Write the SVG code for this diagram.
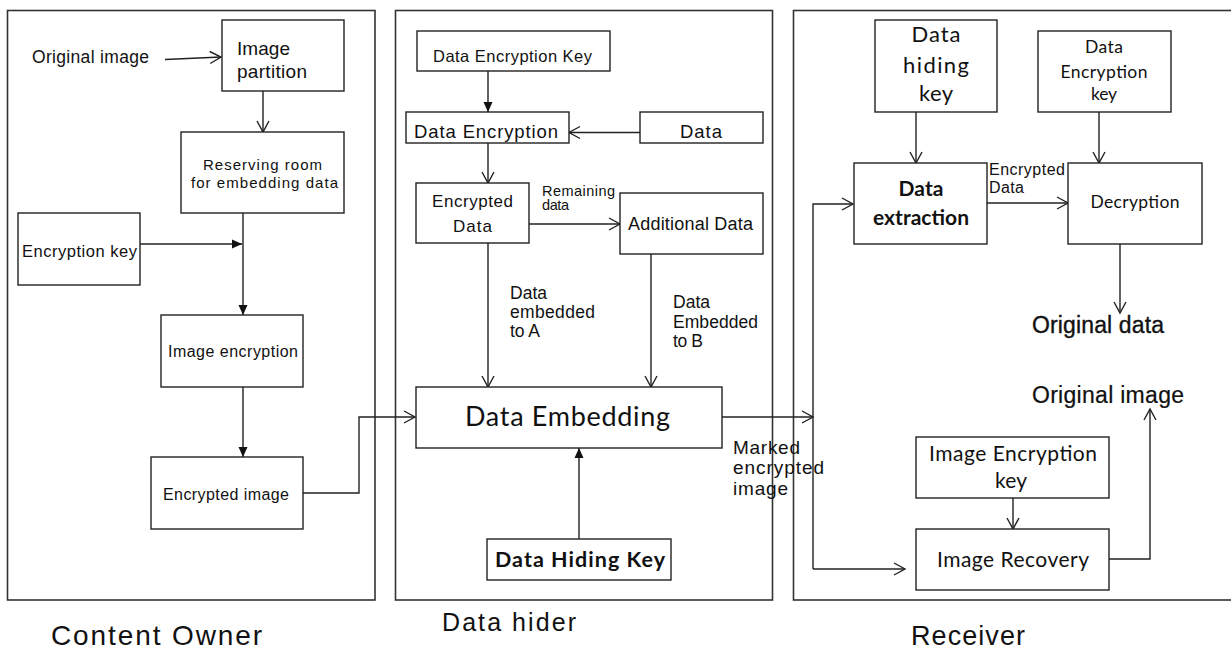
<svg xmlns="http://www.w3.org/2000/svg" width="1231" height="650" viewBox="0 0 1231 650">
<style>
.panel{fill:none;stroke:#333;stroke-width:1.6}
.box{fill:#fff;stroke:#222;stroke-width:1.4}
.ln{fill:none;stroke:#222;stroke-width:1.4}
.a{font-family:"Liberation Sans",Arial,sans-serif;fill:#111}
.c{font-family:Lato,"Liberation Sans",sans-serif;fill:#111}
.m{text-anchor:middle}
.b{font-weight:bold}
</style>
<defs>
<marker id="open" markerUnits="userSpaceOnUse" markerWidth="14" markerHeight="16" refX="12" refY="7" orient="auto">
<path d="M1,1 L12,7 L1,13" fill="none" stroke="#222" stroke-width="1.4"/>
</marker>
<marker id="fill" markerUnits="userSpaceOnUse" markerWidth="12" markerHeight="12" refX="10" refY="5" orient="auto">
<path d="M0,0.5 L10,5 L0,9.5 z" fill="#111"/>
</marker>
</defs>
<rect width="1231" height="650" fill="#fff"/>

<g id="panels">
<rect class="panel" x="7.5" y="10.5" width="367.5" height="589.5"/>
<rect class="panel" x="395.5" y="10.5" width="377" height="589.5"/>
<rect class="panel" x="793.5" y="10.5" width="440" height="589.5"/>
</g>

<g id="connectors">
<path class="ln" d="M165,59.5 L221,57" marker-end="url(#open)"/>
<path class="ln" d="M263,91 L263,132" marker-end="url(#open)"/>
<path class="ln" d="M140,244 L242,244" marker-end="url(#fill)"/>
<path class="ln" d="M243,213 L243,315" marker-end="url(#fill)"/>
<path class="ln" d="M243,387 L243,457" marker-end="url(#fill)"/>
<path class="ln" d="M303,493 L359,493 L359,417 L415,417" marker-end="url(#open)"/>
<path class="ln" d="M488,71 L488,112" marker-end="url(#fill)"/>
<path class="ln" d="M640,132.5 L569,132.5" marker-end="url(#open)"/>
<path class="ln" d="M488,143 L488,183" marker-end="url(#open)"/>
<path class="ln" d="M529,224 L620,224" marker-end="url(#open)"/>
<path class="ln" d="M488,243 L488,387" marker-end="url(#open)"/>
<path class="ln" d="M651,254 L651,387" marker-end="url(#open)"/>
<path class="ln" d="M579,539 L579,448" marker-end="url(#fill)"/>
<path class="ln" d="M722,417 L813,417" marker-end="url(#open)"/>
<path class="ln" d="M813,569 L813,204 L853,204" marker-end="url(#open)"/>
<path class="ln" d="M813,569 L905,569" marker-end="url(#open)"/>
<path class="ln" d="M916,112 L916,163" marker-end="url(#open)"/>
<path class="ln" d="M1099,112 L1099,163" marker-end="url(#open)"/>
<path class="ln" d="M987,203 L1068,203" marker-end="url(#open)"/>
<path class="ln" d="M1120,244 L1120,313" marker-end="url(#open)"/>
<path class="ln" d="M1013,498 L1013,529" marker-end="url(#open)"/>
<path class="ln" d="M1109,559 L1150,559 L1150,409" marker-end="url(#open)"/>
</g>

<!-- Content Owner -->
<g id="original-image-in">
<text class="a" x="32" y="63" font-size="17.5" textLength="117">Original image</text>
</g>
<g id="image-partition">
<rect class="box" x="222" y="20" width="122" height="71"/>
<text class="a" x="237" y="55" font-size="19" textLength="53">Image</text>
<text class="a" x="237" y="78" font-size="19" textLength="70">partition</text>
</g>
<g id="reserving-room">
<rect class="box" x="181" y="132" width="163" height="81"/>
<text class="a" x="203" y="170" font-size="15" textLength="119">Reserving room</text>
<text class="a" x="191" y="188" font-size="15" textLength="147">for embedding data</text>
</g>
<g id="encryption-key">
<rect class="box" x="18" y="213" width="122" height="72"/>
<text class="a" x="22" y="257" font-size="16.5" textLength="115">Encryption key</text>
</g>
<g id="image-encryption">
<rect class="box" x="161" y="315" width="142" height="72"/>
<text class="a" x="168" y="357" font-size="16" textLength="130">Image encryption</text>
</g>
<g id="encrypted-image">
<rect class="box" x="151" y="457" width="152" height="72"/>
<text class="a" x="163" y="500" font-size="16" textLength="126">Encrypted image</text>
</g>
<g id="label-content-owner">
<text class="a" x="51" y="645" font-size="28" textLength="211">Content Owner</text>
</g>

<!-- Data hider -->
<g id="data-encryption-key">
<rect class="box" x="417" y="31" width="193" height="40"/>
<text class="a" x="433" y="62" font-size="16.5" textLength="159">Data Encryption Key</text>
</g>
<g id="data-encryption">
<rect class="box" x="406" y="112" width="163" height="31"/>
<text class="a" x="414" y="138" font-size="18.5" textLength="144">Data Encryption</text>
</g>
<g id="data">
<rect class="box" x="640" y="112" width="123" height="31"/>
<text class="a" x="680" y="138" font-size="18.5" textLength="42">Data</text>
</g>
<g id="encrypted-data">
<rect class="box" x="416" y="183" width="113" height="60"/>
<text class="a" x="432" y="207" font-size="17" textLength="81">Encrypted</text>
<text class="a" x="453" y="232" font-size="17" textLength="39">Data</text>
</g>
<g id="remaining-data-label">
<text class="a" x="542" y="196" font-size="14.5" textLength="73">Remaining</text>
<text class="a" x="542" y="210" font-size="14.5" textLength="27">data</text>
</g>
<g id="additional-data">
<rect class="box" x="620" y="193" width="143" height="61"/>
<text class="a" x="628" y="230" font-size="18" textLength="125">Additional Data</text>
</g>
<g id="embedded-a-label">
<text class="a" x="510" y="299" font-size="17.5" textLength="37">Data</text>
<text class="a" x="510" y="318" font-size="17.5" textLength="85">embedded</text>
<text class="a" x="510" y="337" font-size="17.5" textLength="30">to A</text>
</g>
<g id="embedded-b-label">
<text class="a" x="673" y="308" font-size="17.5" textLength="37">Data</text>
<text class="a" x="673" y="328" font-size="17.5" textLength="85">Embedded</text>
<text class="a" x="673" y="347" font-size="17.5" textLength="30">to B</text>
</g>
<g id="data-embedding">
<rect class="box" x="416" y="387" width="306" height="61"/>
<text class="c" x="465" y="426" font-size="27" textLength="205">Data Embedding</text>
</g>
<g id="data-hiding-key">
<rect class="box" x="487" y="539" width="184" height="41"/>
<text class="c b" x="495" y="567" font-size="21.5" textLength="170">Data Hiding Key</text>
</g>
<g id="marked-label">
<text class="a" x="733" y="454" font-size="19" textLength="67">Marked</text>
<text class="a" x="733" y="474" font-size="19" textLength="91">encrypted</text>
<text class="a" x="733" y="495" font-size="19" textLength="55">image</text>
</g>
<g id="label-data-hider">
<text class="a" x="442" y="631" font-size="25" textLength="134">Data hider</text>
</g>

<!-- Receiver -->
<g id="data-hiding-key-r">
<rect class="box" x="875" y="20" width="122" height="92"/>
<text class="c m" x="936" y="42" font-size="22" textLength="49">Data</text>
<text class="c m" x="936" y="73" font-size="22" textLength="66">hiding</text>
<text class="c m" x="936" y="101" font-size="22" textLength="34">key</text>
</g>
<g id="data-encryption-key-r">
<rect class="box" x="1038" y="31" width="133" height="81"/>
<text class="c m" x="1104" y="53" font-size="17.5" textLength="38">Data</text>
<text class="c m" x="1104" y="78" font-size="17.5" textLength="87">Encryption</text>
<text class="c m" x="1104" y="100" font-size="17.5" textLength="26">key</text>
</g>
<g id="data-extraction">
<rect class="box" x="854" y="163" width="133" height="81"/>
<text class="c m b" x="921" y="196" font-size="21" textLength="45">Data</text>
<text class="c m b" x="921" y="225" font-size="21" textLength="96">extraction</text>
</g>
<g id="encrypted-data-label">
<text class="a" x="989" y="175" font-size="16" textLength="76">Encrypted</text>
<text class="a" x="989" y="193" font-size="16" textLength="35">Data</text>
</g>
<g id="decryption">
<rect class="box" x="1068" y="163" width="134" height="81"/>
<text class="c m" x="1135" y="208" font-size="17.5" textLength="89">Decryption</text>
</g>
<g id="original-data">
<text class="a" x="1032" y="333" font-size="23" textLength="132" stroke="#111" stroke-width="0.35">Original data</text>
</g>
<g id="original-image-out">
<text class="a" x="1032" y="403" font-size="23" textLength="152" stroke="#111" stroke-width="0.2">Original image</text>
</g>
<g id="image-encryption-key">
<rect class="box" x="916" y="437" width="193" height="61"/>
<text class="c m" x="1013" y="461" font-size="21" textLength="168">Image Encryption</text>
<text class="c m" x="1011" y="488" font-size="21" textLength="32">key</text>
</g>
<g id="image-recovery">
<rect class="box" x="916" y="529" width="193" height="61"/>
<text class="c m" x="1013" y="567" font-size="21" textLength="152">Image Recovery</text>
</g>
<g id="label-receiver">
<text class="a" x="911" y="645" font-size="27" textLength="114">Receiver</text>
</g>
</svg>
